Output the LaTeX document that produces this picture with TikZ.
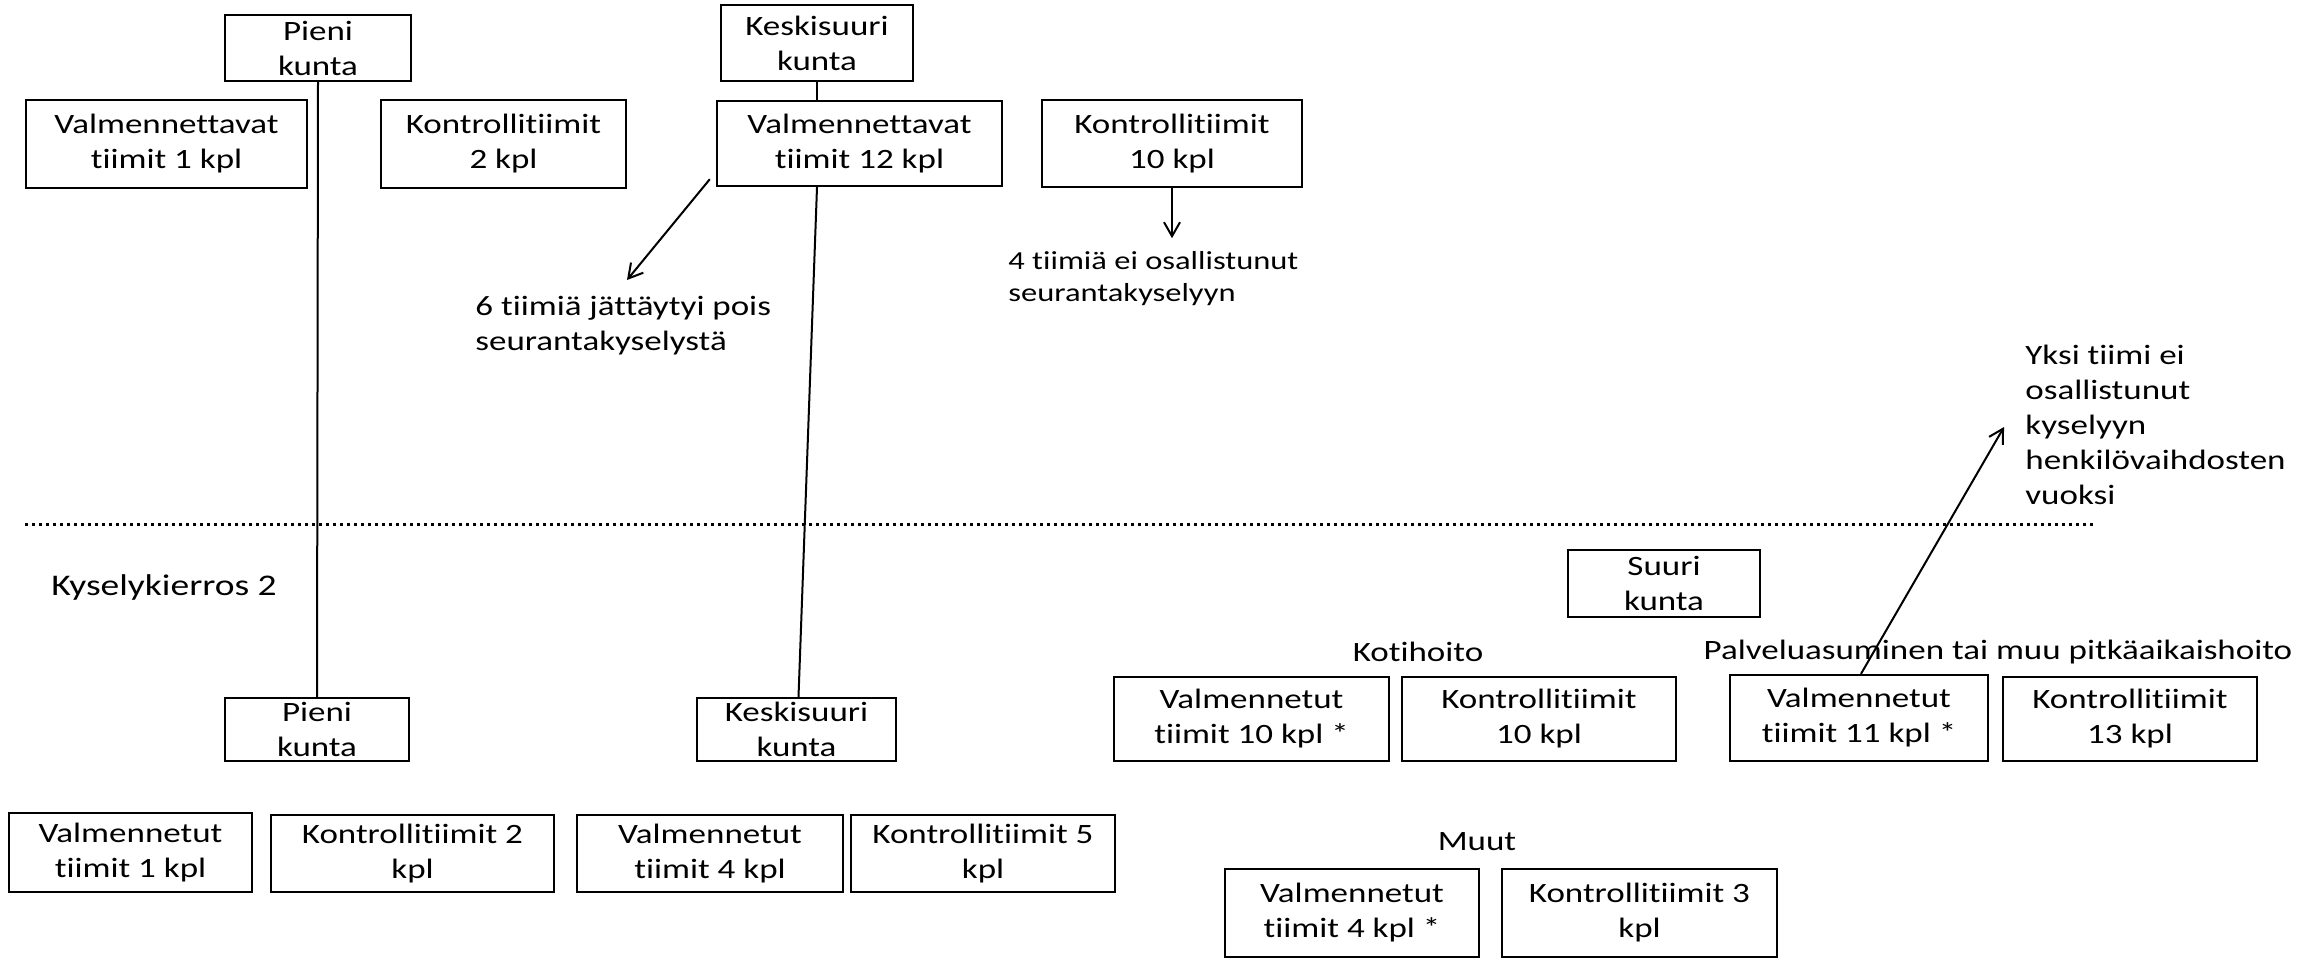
\documentclass[tikz,border=0pt]{standalone}
\usepackage{fontspec}
\setmainfont{Carlito}[FakeStretch=1.25,Ligatures=NoCommon]
\usetikzlibrary{arrows.meta}
\begin{document}
\begin{tikzpicture}[x=0.5pt,y=-0.5pt,
  txt/.style={font=\fontsize{14}{17.5}\selectfont},
  box/.style={txt, draw, line width=1.2pt, inner sep=0pt, align=center},
  sz/.style 2 args={minimum width=#1*0.5pt, minimum height=#2*0.5pt},
  lbl/.style={txt, inner sep=0pt, align=center},
  note/.style={inner sep=0pt, align=left},
  con/.style={line width=1pt},
  arr/.style={line width=1pt, -{Straight Barb[length=7pt,width=8pt]}},
  sep/.style={line width=1.5pt, dash pattern=on 1.5pt off 2pt}]
\useasboundingbox (0,0) rectangle (2323,960);

% ---- upper part ----
\node[box, sz={186}{66}] (pieniA) at (318,48) {Pieni\\kunta};
\node[box, sz={281}{88}] (valmA) at (166.5,144) {Valmennettavat\\tiimit 1 kpl};
\node[box, sz={245}{88}] (kontrA) at (503.5,144) {Kontrollitiimit\\2 kpl};
\node[box, sz={192}{76}] (keskiA) at (817,43) {Keskisuuri\\kunta};
\node[box, sz={285}{85}] (valmB) at (859.5,143.5) {Valmennettavat\\tiimit 12 kpl};
\node[box, sz={260}{87}] (kontrB) at (1172,143.5) {Kontrollitiimit\\10 kpl};

\node[note, anchor=west, font=\fontsize{13}{16}\selectfont] (note4) at (1008,279) {4 tiimiä ei osallistunut\\seurantakyselyyn};
\node[note, txt, anchor=west] (note6) at (475,326) {6 tiimiä jättäytyi pois\\seurantakyselystä};
\node[note, txt, anchor=west] (noteY) at (2025,425) {Yksi tiimi ei\\osallistunut\\kyselyyn\\henkilövaihdosten\\vuoksi};

% ---- separator ----
\coordinate (sepL) at (25,524);
\coordinate (sepR) at (2093,524);
\draw[sep] (sepL) -- (sepR);
\node[lbl, anchor=west, font=\fontsize{15}{18}\selectfont] (round2) at (51,587) {Kyselykierros 2};

% ---- lower part ----
\node[box, sz={184}{63}] (pieniB) at (317,729.5) {Pieni\\kunta};
\node[box, sz={199}{63}] (keskiB) at (796.5,729.5) {Keskisuuri\\kunta};
\node[box, sz={243}{79}] (valmC) at (130.5,852.5) {Valmennetut\\tiimit 1 kpl};
\node[box, sz={283}{77}] (kontrC) at (412.5,853.5) {Kontrollitiimit 2\\kpl};
\node[box, sz={266}{77}] (valmD) at (710,853.5) {Valmennetut\\tiimit 4 kpl};
\node[box, sz={264}{77}] (kontrD) at (983,853.5) {Kontrollitiimit 5\\kpl};

\node[box, sz={192}{67}] (suuri) at (1664,583.5) {Suuri\\kunta};
\node[lbl] (koti) at (1418,652) {Kotihoito};
\node[box, sz={275}{84}] (valmE) at (1251.5,719) {Valmennetut\\tiimit 10 kpl *};
\node[box, sz={274}{84}] (kontrE) at (1539,719) {Kontrollitiimit\\10 kpl};
\node[lbl] (palvelu) at (1998,652) {Palveluasuminen tai muu pitkäaikaishoito};
\node[box, sz={258}{86}] (valmF) at (1859,718) {Valmennetut\\tiimit 11 kpl *};
\node[box, sz={254}{84}] (kontrF) at (2130,719) {Kontrollitiimit\\13 kpl};
\node[lbl] (muut) at (1477,842) {Muut};
\node[box, sz={254}{88}] (valmG) at (1352,913) {Valmennetut\\tiimit 4 kpl *};
\node[box, sz={275}{88}] (kontrG) at (1639.5,913) {Kontrollitiimit 3\\kpl};

% ---- connectors ----
\draw[con] (pieniA.south) -- (pieniB.north);
\draw[con] (keskiA.south) -- (keskiA.south |- valmB.north);
\draw[con] (keskiA.south |- valmB.south) -- ([xshift=1pt]keskiB.north);
\coordinate (tip6) at (627,280);
\draw[arr] ([shift={(-6,-8)}]valmB.south west) -- (tip6);
\draw[arr] (kontrB.south) -- ++(0,50);
\coordinate (tipY) at (2004,427);
\draw[arr] ([xshift=1pt]valmF.north) -- (tipY);
\end{tikzpicture}
\end{document}
